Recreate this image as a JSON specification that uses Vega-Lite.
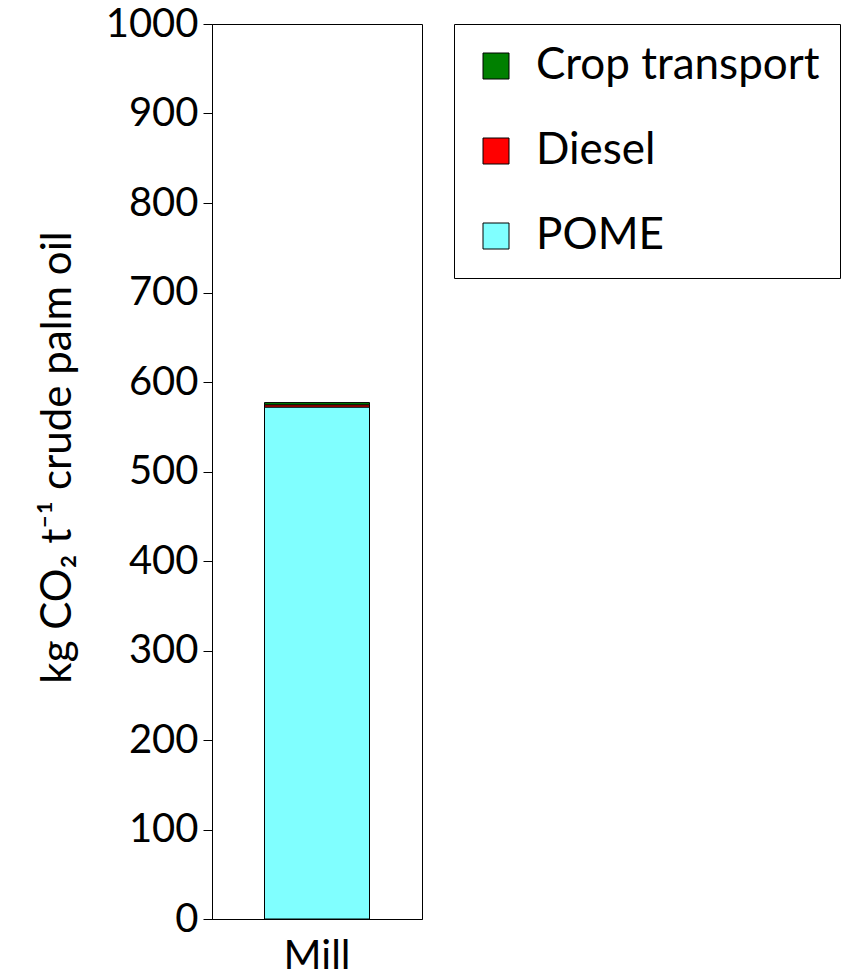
{
  "$schema": "https://vega.github.io/schema/vega-lite/v6.json",
  "autosize": "none",
  "width": 210,
  "height": 895,
  "padding": {"left": 212, "top": 24, "right": 426, "bottom": 59},
  "background": "white",
  "config": {
    "font": "Lato",
    "view": {"stroke": "black", "strokeWidth": 1}
  },
  "data": {
    "values": [
      {"site": "Mill", "source": "POME", "value": 572, "ord": 1},
      {"site": "Mill", "source": "Diesel", "value": 2.5, "ord": 2},
      {"site": "Mill", "source": "Crop transport", "value": 2.5, "ord": 3}
    ]
  },
  "mark": {"type": "bar", "stroke": "black", "strokeWidth": 1},
  "encoding": {
    "x": {
      "field": "site",
      "type": "nominal",
      "scale": {"paddingInner": 0.5, "paddingOuter": 0.25},
      "axis": {
        "title": null,
        "labelAngle": 0,
        "labelFontSize": 41,
        "labelColor": "black",
        "labelPadding": 17,
        "ticks": false,
        "domainColor": "black",
        "domainWidth": 1
      }
    },
    "y": {
      "field": "value",
      "type": "quantitative",
      "stack": "zero",
      "scale": {"domain": [0, 1000], "nice": false},
      "axis": {
        "title": "kg CO₂ t⁻¹ crude palm oil",
        "titleFontSize": 42,
        "titleFontWeight": "normal",
        "titleColor": "black",
        "titlePadding": 26,
        "titleY": 433,
        "values": [0, 100, 200, 300, 400, 500, 600, 700, 800, 900, 1000],
        "format": "d",
        "labelFontSize": 40,
        "labelColor": "black",
        "labelPadding": 5,
        "tickSize": 9,
        "tickColor": "black",
        "domainColor": "black",
        "grid": false
      }
    },
    "color": {
      "field": "source",
      "type": "nominal",
      "scale": {
        "domain": ["Crop transport", "Diesel", "POME"],
        "range": ["#008000", "#FF0000", "#80FFFF"]
      },
      "legend": {
        "title": null,
        "orient": "none",
        "legendX": 242,
        "legendY": 0,
        "strokeColor": "black",
        "padding": 20,
        "symbolType": "square",
        "symbolSize": 676,
        "symbolStrokeColor": "black",
        "symbolStrokeWidth": 1,
        "symbolOpacity": 1,
        "labelFontSize": 44,
        "labelColor": "black",
        "labelOffset": 18,
        "rowPadding": 41,
        "labelLimit": 400
      }
    },
    "order": {"field": "ord", "type": "quantitative"}
  }
}
